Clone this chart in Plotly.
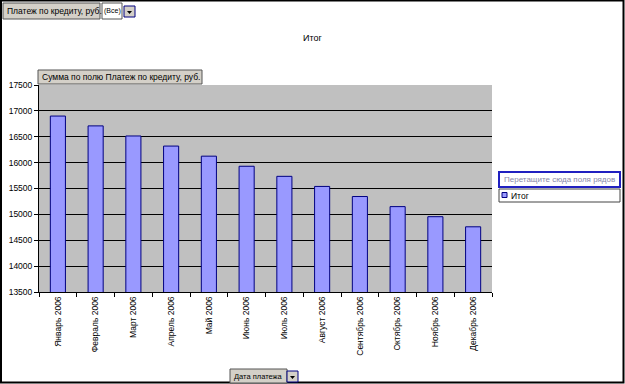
import plotly.graph_objects as go

months = ["Январь 2006", "Февраль 2006", "Март 2006", "Апрель 2006", "Май 2006", "Июнь 2006",
          "Июль 2006", "Август 2006", "Сентябрь 2006", "Октябрь 2006", "Ноябрь 2006", "Декабрь 2006"]
payments = [16900, 16710, 16515, 16320, 16125, 15930, 15735, 15540, 15345, 15150, 14955, 14760]
y_ticks = [13500, 14000, 14500, 15000, 15500, 16000, 16500, 17000, 17500]
y_tick_labels = [str(v) for v in y_ticks]
series_name = "Итог"

W, H = 625, 384
L, R, T, B = 39, 133, 85, 92
pw, ph = W - L - R, H - T - B

def px(x):
    return (x - L) / pw

def py(y):
    return 1 - (y - T) / ph

FONT = "Arial, Liberation Sans, sans-serif"

fig = go.Figure()
fig.add_trace(go.Bar(
    x=months, y=payments, name=series_name,
    marker=dict(color="#9999FF", line=dict(color="#000080", width=1)),
    width=0.4, showlegend=False,
))

shapes = []
annotations = []

def box(x0, y0, x1, y1, fill, line="#000000", lw=1):
    shapes.append(dict(type="rect", xref="paper", yref="paper",
                       x0=px(x0), x1=px(x1), y0=py(y1), y1=py(y0),
                       fillcolor=fill, line=dict(color=line, width=lw), layer="above"))

def text(x, y, s, anchor="left", color="#000000", size=8.5):
    annotations.append(dict(xref="paper", yref="paper", x=px(x), y=py(y), text=s,
                            showarrow=False, xanchor=anchor, yanchor="middle",
                            font=dict(family=FONT, size=size, color=color)))

def dropdown(x0, y0):
    box(x0, y0, x0 + 11, y0 + 11, "#D4D0C8", "#000080", 1)
    shapes.append(dict(type="path", xref="paper", yref="paper",
                       path=f"M {px(x0+3)},{py(y0+5)} L {px(x0+8)},{py(y0+5)} L {px(x0+5.5)},{py(y0+8)} Z",
                       fillcolor="#000000", line=dict(width=0), layer="above"))

# outer frame
shapes.append(dict(type="rect", xref="paper", yref="paper",
                   x0=px(1), x1=px(623.5), y0=py(382.5), y1=py(0.5),
                   line=dict(color="#000000", width=2), layer="above"))

# page field
box(3, 3, 100, 19, "#D4D0C8", "#555555")
text(5, 11, "Платеж по кредиту, руб.", size=8.5)
box(102, 3, 122, 19, "#FFFFFF", "#555555")
text(112, 11, "(Все)", anchor="center", size=7)
dropdown(124, 6)

# title
text(312, 38, "Итог", anchor="center", size=9)

# data field
box(38, 70, 202, 84, "#D4D0C8", "#555555")
text(40, 77, "Сумма по полю Платеж по кредиту, руб.", size=8.5)

# series drop zone and legend
box(499, 172, 620, 187, "#FFFFFF", "#2020C0", 2)
text(502, 179.5, "Перетащите сюда поля рядов", color="#8888AA", size=8)
box(499, 189, 620, 202, "#FFFFFF", "#444444")
box(502, 192.5, 507, 197.5, "#9999FF", "#000080")
text(509, 195.5, "Итог", size=8.5)

# category field
box(230, 369, 287, 383, "#D4D0C8", "#555555")
text(258, 376, "Дата платежа", anchor="center", size=7.5)
dropdown(287, 371)

fig.update_layout(
    width=W, height=H,
    margin=dict(l=L, r=R, t=T, b=B, pad=0, autoexpand=False),
    paper_bgcolor="#FFFFFF",
    plot_bgcolor="#C0C0C0",
    font=dict(family=FONT, size=9, color="#000000"),
    bargap=0.6,
    shapes=shapes,
    annotations=annotations,
    xaxis=dict(
        type="category", tickangle=-90, tickson="boundaries",
        ticks="outside", ticklen=4, tickcolor="#000000",
        showline=True, linecolor="#000000", linewidth=1,
        showgrid=False, mirror=False, tickfont=dict(size=8.5), automargin=False,
    ),
    yaxis=dict(
        range=[13500, 17500], tickvals=y_ticks, ticktext=y_tick_labels,
        ticks="outside", ticklen=4, tickcolor="#000000",
        showline=True, linecolor="#000000", linewidth=1,
        showgrid=True, gridcolor="#000000", gridwidth=1,
        zeroline=False, tickfont=dict(size=8.5), automargin=False,
    ),
)

fig.write_html("out.html", config={"displayModeBar": False})
with open("out.html", "r", encoding="utf-8") as f:
    html = f.read()
html = html.replace("<body>", '<body style="margin:0;padding:0;">', 1)
html = html.replace("<head>", "<head><style>html,body{margin:0;padding:0;overflow:hidden;}</style>", 1)
with open("out.html", "w", encoding="utf-8") as f:
    f.write(html)
